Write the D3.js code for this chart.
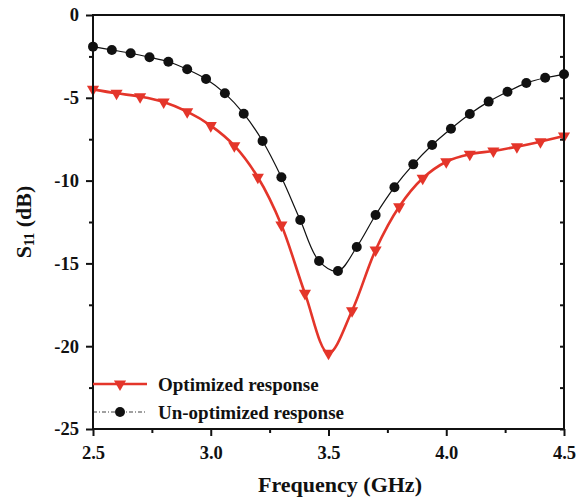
<!DOCTYPE html>
<html>
<head>
<meta charset="utf-8">
<script src="https://cdn.jsdelivr.net/npm/d3@7"></script>
<style>
  body { margin: 0; background: #fff; }
  svg text { font-family: "Liberation Serif", "Times New Roman", serif; font-weight: bold; }
</style>
</head>
<body>
<svg id="chart" width="580" height="498"></svg>
<script>
// un-optimized response, markers every 0.08 GHz
var unoptFreq = d3.range(26).map(function(i) { return +(2.5 + i * 0.08).toFixed(2); });
var unoptS11 = [-1.91, -2.11, -2.31, -2.55, -2.82, -3.28, -3.86, -4.73, -5.96, -7.61,
                -9.80, -12.38, -14.86, -15.46, -14.01, -12.08, -10.40, -9.02, -7.85, -6.87,
                -5.98, -5.23, -4.63, -4.11, -3.79, -3.58];

// optimized response, markers every 0.1 GHz
var optFreq = [2.5, 2.6, 2.7, 2.8, 2.9, 3.0, 3.1, 3.2, 3.3, 3.4, 3.5,
               3.6, 3.7, 3.8, 3.9, 4.0, 4.1, 4.2, 4.3, 4.4, 4.5];
var optS11 = [-4.49, -4.73, -4.93, -5.25, -5.84, -6.68, -7.89, -9.80, -12.68, -16.81, -20.43,
              -17.86, -14.19, -11.58, -9.86, -8.86, -8.41, -8.21, -7.95, -7.65, -7.31];

var xTicks = [2.5, 3.0, 3.5, 4.0, 4.5];
var xMinor = [2.75, 3.25, 3.75, 4.25];
var yTicks = [0, -5, -10, -15, -20, -25];
var yMinor = [-2.5, -7.5, -12.5, -17.5, -22.5];

var svg = d3.select("#chart");
var margin = {top: 15, right: 16, bottom: 69, left: 93};
var width = 580 - margin.left - margin.right;
var height = 498 - margin.top - margin.bottom;

var x = d3.scaleLinear().domain([2.5, 4.5]).range([0, width]);
var y = d3.scaleLinear().domain([-25, 0]).range([height, 0]);

var g = svg.append("g").attr("transform", "translate(" + margin.left + "," + margin.top + ")");

var red = "#e4352a";

// lines
var line = d3.line()
    .x(function(d) { return x(d[0]); })
    .y(function(d) { return y(d[1]); })
    .curve(d3.curveCatmullRom.alpha(0.5));

var unopt = unoptFreq.map(function(f, i) { return [f, unoptS11[i]]; });
var opt = optFreq.map(function(f, i) { return [f, optS11[i]]; });

g.append("path").datum(unopt)
    .attr("d", line)
    .attr("fill", "none")
    .attr("stroke", "#111")
    .attr("stroke-width", 1.2);

g.append("path").datum(opt)
    .attr("d", line)
    .attr("fill", "none")
    .attr("stroke", red)
    .attr("stroke-width", 2.6);

var tri = d3.symbol().type(d3.symbolTriangle).size(64);

g.append("g").selectAll("path")
    .data(opt)
  .enter().append("path")
    .attr("d", tri)
    .attr("transform", function(d) { return "translate(" + x(d[0]) + "," + y(d[1]) + ") rotate(180)"; })
    .attr("fill", red);

g.append("g").selectAll("circle")
    .data(unopt)
  .enter().append("circle")
    .attr("cx", function(d) { return x(d[0]); })
    .attr("cy", function(d) { return y(d[1]); })
    .attr("r", 5)
    .attr("fill", "#111");

// axes
function styleAxis(sel) {
  sel.selectAll(".domain").remove();
  sel.selectAll("line").attr("stroke", "#111").attr("stroke-width", 2);
  sel.selectAll("text").attr("fill", "#111").style("font-size", "18.5px");
}

g.append("g")
    .attr("transform", "translate(0," + height + ")")
    .call(d3.axisBottom(x).tickValues(xTicks).tickSize(7).tickPadding(10).tickFormat(d3.format(".1f")))
    .call(styleAxis);

g.append("g")
    .attr("transform", "translate(0," + height + ")")
    .call(d3.axisBottom(x).tickValues(xMinor).tickSize(4).tickFormat(""))
    .call(styleAxis);

g.append("g")
    .call(d3.axisLeft(y).tickValues(yTicks).tickSize(7).tickPadding(7)
      .tickFormat(function(d) { return String(d); }))
    .call(styleAxis);

g.append("g")
    .call(d3.axisLeft(y).tickValues(yMinor).tickSize(4).tickFormat(""))
    .call(styleAxis);

g.append("g")
    .attr("transform", "translate(" + width + ",0)")
    .call(d3.axisLeft(y).tickValues(yTicks.concat(yMinor)).tickSize(4).tickFormat(""))
    .call(styleAxis);

// frame
g.append("rect")
    .attr("width", width)
    .attr("height", height)
    .attr("fill", "none")
    .attr("stroke", "#111")
    .attr("stroke-width", 2);

// axis titles
svg.append("text")
    .attr("x", 340)
    .attr("y", 492)
    .attr("text-anchor", "middle")
    .style("font-size", "22px")
    .attr("fill", "#111")
    .text("Frequency (GHz)");

var yt = svg.append("text")
    .attr("transform", "translate(31," + (margin.top + height / 2) + ") rotate(-90)")
    .attr("text-anchor", "middle")
    .style("font-size", "22px")
    .attr("fill", "#111");
yt.append("tspan").text("S");
yt.append("tspan").attr("dy", 3).style("font-size", "14px").text("11");
yt.append("tspan").attr("dy", -3).text(" (dB)");

// legend
var legend = svg.append("g");
legend.append("line")
    .attr("x1", 93).attr("x2", 147).attr("y1", 384).attr("y2", 384)
    .attr("stroke", red).attr("stroke-width", 2.6);
legend.append("path")
    .attr("d", tri)
    .attr("transform", "translate(120,384) rotate(180)")
    .attr("fill", red);
legend.append("text")
    .attr("x", 158).attr("y", 391)
    .style("font-size", "19px").attr("fill", "#111")
    .text("Optimized response");

legend.append("line")
    .attr("x1", 93).attr("x2", 147).attr("y1", 412).attr("y2", 412)
    .attr("stroke", "#111").attr("stroke-width", 0.8)
    .attr("stroke-dasharray", "4,2,1,2");
legend.append("circle")
    .attr("cx", 120).attr("cy", 412).attr("r", 5).attr("fill", "#111");
legend.append("text")
    .attr("x", 158).attr("y", 419)
    .style("font-size", "19px").attr("fill", "#111")
    .text("Un-optimized response");
</script>
</body>
</html>
